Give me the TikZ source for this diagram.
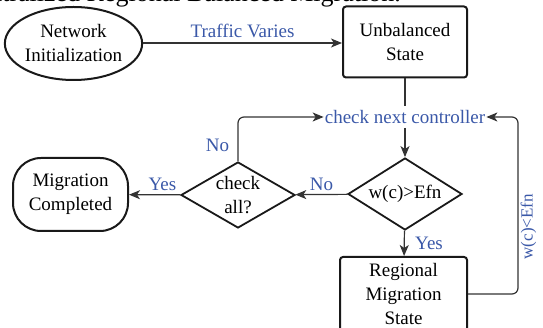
\documentclass[tikz,border=0pt]{standalone}
\usepackage{fontspec}
\setmainfont{Liberation Serif}
\usepackage{xcolor}
\usepackage{tikz}
\usetikzlibrary{shapes, arrows.meta, positioning, calc}

\definecolor{labelblue}{RGB}{58,88,168}
\tikzset{
  state/.style={draw=black!90, line width=2pt, rounded corners=3pt, align=center, inner sep=2pt},
  decision/.style={draw=black!90, line width=1.8pt, diamond, aspect=1.7, align=center, inner sep=0pt},
  link/.style={draw=black!80, line width=1.2pt, -{Stealth[length=11pt,width=9pt,inset=3pt]}},
  lbl/.style={text=labelblue}
}

\begin{document}
\begin{tikzpicture}[x=1pt, y=-1pt, font=\fontsize{19}{24}\selectfont]
  \useasboundingbox (0,0) rectangle (543,328);

  % Caption cut off at the top
  \begin{scope}
    \clip (0,0) rectangle (543,328);
    \node[anchor=base east, inner sep=0pt, font=\fontsize{26}{30}\selectfont] (caption) at (401,2) {Centralized Regional Balanced Migration.};
  \end{scope}

  % States
  \node[state, ellipse, minimum width=119pt, minimum height=73pt, inner sep=0pt] (init) at (73.5,43.5) {Network\\Initialization};
  \node[state, minimum width=124pt, minimum height=71pt] (unbal) at (405,42) {Unbalanced\\State};
  \node[lbl, inner xsep=1pt, inner ysep=4pt] (next) at (405,117) {check next controller};
  \node[decision, minimum width=114pt, minimum height=72pt] (wc) at (405,194) {w(c)>Efn};
  \node[decision, minimum width=114pt, minimum height=66pt] (all) at (238,195) {check\\all?};
  \node[state, rounded corners=28pt, minimum width=115pt, minimum height=73pt] (done) at (70.5,194.5) {Migration\\Completed};
  \node[state, minimum width=127pt, minimum height=74pt] (region) at (403.5,294) {Regional\\Migration\\State};

  % Turning point on the right
  \coordinate (turn) at (518,117);

  % Connectors
  \draw[link] (init.east |- 0,43) -- (unbal.west |- 0,43) node[midway, above=1pt, lbl] {Traffic Varies};
  \draw[draw=black!80, line width=1.2pt] (unbal) -- (next);
  \draw[link] (next) -- (wc);
  \draw[link] (wc) -- (all) node[midway, above, lbl] {No};
  \draw[link] (all) -- (done) node[pos=0.35, above, lbl] {Yes};
  \draw[link] (wc) -- (region) node[midway, right=7pt, lbl] {Yes};
  \draw[link, rounded corners=6pt] (all.north) |- (next.west) node[pos=0.18, left=5pt, lbl] {No};
  \draw[link, rounded corners=6pt] (region.east) -| (turn)
    node[pos=0.69, anchor=north, rotate=90, inner sep=2pt, lbl, font=\fontsize{17}{20}\selectfont] {w(c)<Efn}
    -- (next.east);
\end{tikzpicture}
\end{document}
